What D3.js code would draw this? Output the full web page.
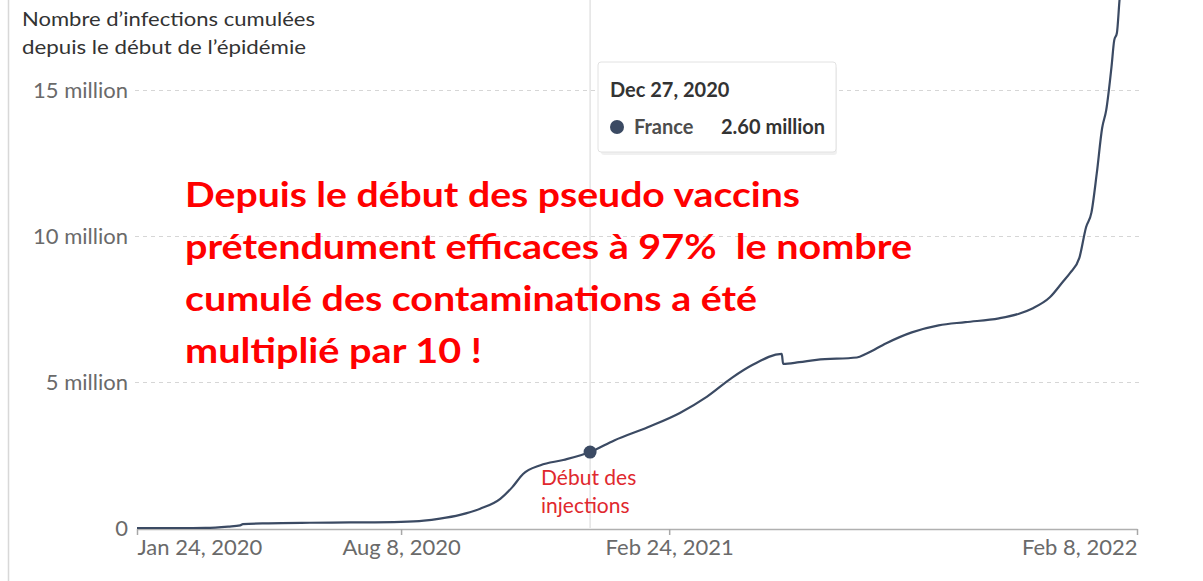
<!DOCTYPE html>
<html><head><meta charset="utf-8">
<script src="https://cdn.jsdelivr.net/npm/d3@7"></script>
<style>
html,body{margin:0;padding:0;background:#fff;}
svg{display:block;}
</style></head>
<body>
<svg id="chart" width="1203" height="581"></svg>
<script>
// ---- data (cumulative confirmed infections, France, in millions) ----
const dates = ["2020-01-24","2020-02-29","2020-03-15","2020-04-01","2020-04-10","2020-04-12","2020-05-01","2020-06-01","2020-07-01","2020-08-08","2020-08-25","2020-09-06","2020-09-21","2020-10-06","2020-10-21","2020-10-30","2020-11-07","2020-11-20","2020-12-07","2020-12-27","2021-01-14","2021-02-08","2021-03-04","2021-03-24","2021-04-12","2021-04-27","2021-05-19","2021-05-20","2021-06-01","2021-06-14","2021-07-14","2021-07-21","2021-08-05","2021-08-24","2021-09-13","2021-10-03","2021-10-28","2021-11-12","2021-11-22","2021-12-05","2021-12-15","2021-12-20","2021-12-27","2022-01-01","2022-01-05","2022-01-09","2022-01-13","2022-01-16","2022-01-20","2022-01-22","2022-01-24","2022-01-26","2022-01-31","2022-02-08"];
const cases = [0,0.0001,0.005,0.05,0.09,0.13,0.16,0.18,0.19,0.21,0.25,0.32,0.45,0.66,1.0,1.4,1.85,2.15,2.33,2.60,3.0,3.45,3.94,4.49,5.15,5.58,5.96,5.62,5.68,5.76,5.84,5.97,6.33,6.7,6.94,7.05,7.18,7.34,7.52,7.9,8.45,8.73,9.25,10.3,10.8,12.15,13.7,14.3,15.8,16.7,16.95,18.1,19.8,20.9];
const xTickDates = ["2020-01-24","2020-08-08","2021-02-24","2022-02-08"];
const xTickLabels = ["Jan 24, 2020","Aug 8, 2020","Feb 24, 2021","Feb 8, 2022"];
const yTickValues = [0,5,10,15];
const yTickLabels = ["0","5 million","10 million","15 million"];
const titleLines = ["Nombre d\u2019infections cumulées","depuis le début de l\u2019épidémie"];
const bigTextLines = ["Depuis le début des pseudo vaccins","prétendument efficaces à 97%  le nombre","cumulé des contaminations a été","multiplié par 10 !"];
const noteLines = ["Début des","injections"];
const tooltipDate = "2020-12-27";
const tooltipTitle = "Dec 27, 2020";
const tooltipSeries = "France";
const tooltipValue = "2.60 million";

const parse = d3.timeParse("%Y-%m-%d");
const data = dates.map((d,i)=>({date:parse(d), v:cases[i]}));

const svg = d3.select("#chart");
const x = d3.scaleTime().domain([parse("2020-01-24"), parse("2022-02-08")]).range([137,1137]);
const y = d3.scaleLinear().domain([0,15]).range([528,90]);

// left border line
svg.append("line").attr("x1",8.5).attr("x2",8.5).attr("y1",0).attr("y2",581)
  .attr("stroke","#d8d8d8").attr("stroke-width",1.5);

// y axis (gridlines)
const yAxis = d3.axisLeft(y).tickValues(yTickValues)
  .tickFormat((d,i)=>yTickLabels[i]).tickSize(-(1140-135)).tickPadding(7);
const gy = svg.append("g").attr("transform","translate(135,0)").call(yAxis);
gy.select(".domain").remove();
gy.selectAll(".tick line").attr("stroke","#d6d6d6").attr("stroke-dasharray","4,4").attr("stroke-width",1.2);
gy.selectAll(".tick").filter(d=>d===0).select("line").remove();
gy.selectAll(".tick text").attr("font-family","Lato, sans-serif").attr("font-size",22).attr("fill","#6a6a6a");

// x axis
const xAxis = d3.axisBottom(x).tickValues(xTickDates.map(parse))
  .tickFormat((d,i)=>xTickLabels[i]).tickSize(6).tickSizeOuter(0).tickPadding(4);
const gx = svg.append("g").attr("transform","translate(0,529)").call(xAxis);
gx.select(".domain").attr("stroke","#b0b0b0").attr("stroke-width",1.5);
gx.selectAll(".tick line").attr("stroke","#a8a8a8").attr("stroke-width",1.5);
gx.selectAll(".tick text").attr("font-family","Lato, sans-serif").attr("font-size",22).attr("fill","#6a6a6a");
gx.selectAll(".tick text").filter((d,i)=>i===0).attr("text-anchor","start");
gx.selectAll(".tick text").filter((d,i)=>i===xTickDates.length-1).attr("text-anchor","end");

// hover vertical line
const tx = x(parse(tooltipDate));
svg.append("line").attr("x1",tx).attr("x2",tx).attr("y1",0).attr("y2",528)
  .attr("stroke","#dcdcdc").attr("stroke-width",1.2);

// series line
const line = d3.line().x(d=>x(d.date)).y(d=>y(d.v)).curve(d3.curveMonotoneX);
svg.append("path").datum(data).attr("d",line).attr("fill","none")
  .attr("stroke","#3b4a63").attr("stroke-width",2.2).attr("stroke-linejoin","round");

// hover marker
const tv = data.find(d=>+d.date===+parse(tooltipDate)).v;
svg.append("circle").attr("cx",tx).attr("cy",y(tv)).attr("r",6.5).attr("fill","#3b4a63");

// title
const titleWidths = [293, 284];
svg.append("g").selectAll("text").data(titleLines).join("text")
  .attr("x",22).attr("y",(d,i)=>26+i*28).text(d=>d)
  .attr("textLength",(d,i)=>titleWidths[i]).attr("lengthAdjust","spacingAndGlyphs")
  .attr("font-family","Lato, sans-serif").attr("font-size",20).attr("fill","#333");

// tooltip box
const tt = svg.append("g");
tt.append("rect").attr("x",600).attr("y",64).attr("width",236).attr("height",89).attr("rx",3)
  .attr("fill","#000").attr("opacity",0.06).attr("transform","translate(1,2)");
tt.append("rect").attr("x",598).attr("y",62).attr("width",238).attr("height",90).attr("rx",3)
  .attr("fill","#fff").attr("stroke","#e2e2e2").attr("stroke-width",1);
tt.append("text").attr("x",610).attr("y",97).text(tooltipTitle)
  .attr("font-family","Lato, sans-serif").attr("font-size",20).attr("font-weight",700).attr("fill","#333");
tt.append("circle").attr("cx",617).attr("cy",127).attr("r",7).attr("fill","#3b4a63");
tt.append("text").attr("x",634).attr("y",134).text(tooltipSeries)
  .attr("font-family","Lato, sans-serif").attr("font-size",20).attr("font-weight",700).attr("fill","#4d4d4d");
tt.append("text").attr("x",825).attr("y",134).attr("text-anchor","end").text(tooltipValue)
  .attr("font-family","Lato, sans-serif").attr("font-size",20).attr("font-weight",700).attr("fill","#333");

// big red annotation
const bigWidths = [615, 727, 572, 297];
svg.append("g").selectAll("text").data(bigTextLines).join("text")
  .attr("x",185).attr("y",(d,i)=>207+i*52).text(d=>d)
  .attr("xml:space","preserve")
  .attr("textLength",(d,i)=>bigWidths[i]).attr("lengthAdjust","spacingAndGlyphs")
  .attr("font-family","Lato, sans-serif").attr("font-size",35).attr("font-weight",700).attr("fill","#ff0000");

// small red note
svg.append("g").selectAll("text").data(noteLines).join("text")
  .attr("x",541).attr("y",(d,i)=>485+i*28).text(d=>d)
  .attr("font-family","Lato, sans-serif").attr("font-size",21).attr("fill","#e0282e");
</script>
</body></html>
